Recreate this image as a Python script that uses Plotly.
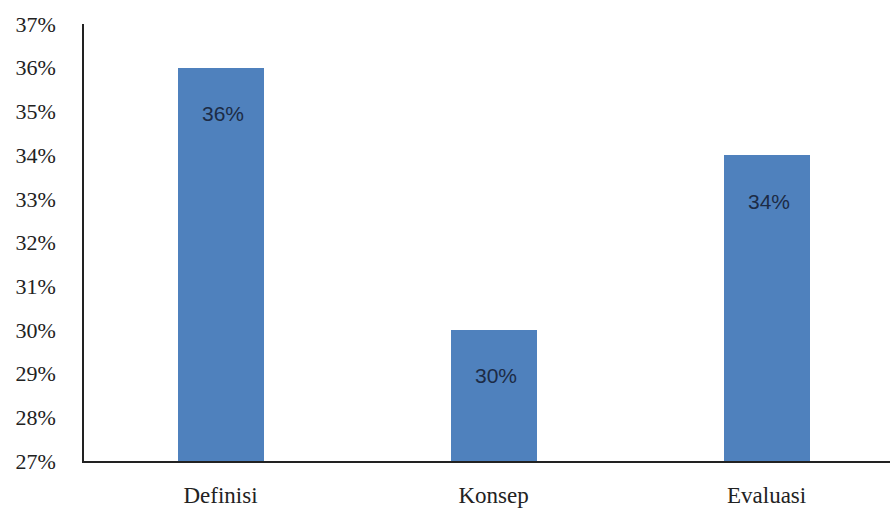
import plotly.graph_objects as go

categories = ["Definisi", "Konsep", "Evaluasi"]
values = [36, 30, 34]
labels = ["36%", "30%", "34%"]
tick_vals = list(range(27, 38))
tick_text = [f"{v}%" for v in tick_vals]

fig = go.Figure()
fig.add_trace(go.Bar(
    x=categories, y=values, base=0,
    marker=dict(color="#4F81BD", line=dict(width=0)),
    width=0.315, hoverinfo="skip",
))
for c, v, t in zip(categories, values, labels):
    fig.add_annotation(x=c, y=v, text=t, showarrow=False, yanchor="middle",
                       yshift=-46, xshift=2,
                       font=dict(family="Liberation Sans Narrow, Liberation Sans, Arial", size=21, color="#1c2b45"))

fig.update_layout(
    width=890, height=508,
    margin=dict(l=84, r=0, t=24, b=43),
    paper_bgcolor="white", plot_bgcolor="white",
    showlegend=False,
    font=dict(family="Liberation Serif, Times New Roman, serif", size=20, color="#222222"),
    bargap=0,
)
fig.update_xaxes(
    range=[-0.5, 2.452], showgrid=False, showline=True, linecolor="#222222", linewidth=1.5,
    ticks="", ticklabelstandoff=13, tickfont=dict(size=23),
    zeroline=False,
)
fig.update_yaxes(
    range=[27, 37], tickvals=tick_vals, ticktext=tick_text, showgrid=False,
    showline=True, linecolor="#222222", linewidth=1.5, ticks="", ticklabelstandoff=22,
    zeroline=False, tickfont=dict(size=22),
)
fig.write_html("out.html")
